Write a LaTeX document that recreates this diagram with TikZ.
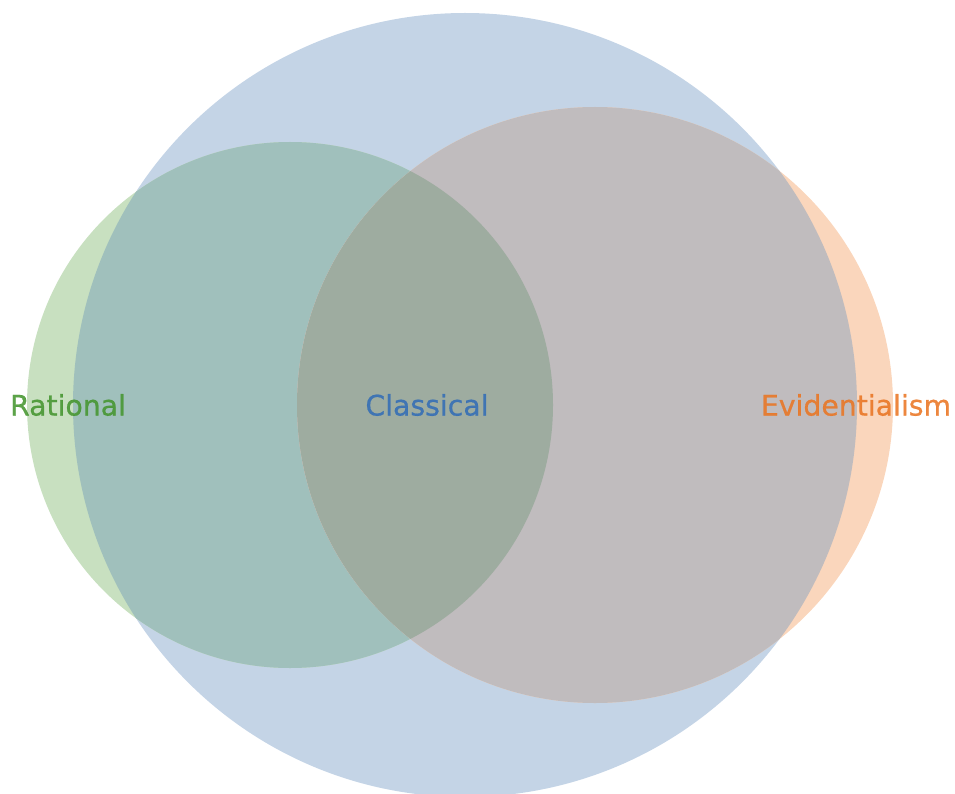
\documentclass[tikz,border=0pt]{standalone}
\usepackage{fontspec}
\setmainfont{DejaVu Sans}
\newfontfamily\setfont[FakeBold=0.7]{DejaVu Sans}
\begin{document}
\begin{tikzpicture}[x=1pt,y=-1pt,
  setlabel/.style={font=\setfont\fontsize{28.3}{34}\selectfont, inner sep=0pt, text opacity=0.88}]
\definecolor{blueonly}{RGB}{196,212,230}
\definecolor{greenonly}{RGB}{200,224,192}
\definecolor{orangeonly}{RGB}{250,214,188}
\definecolor{bluegreen}{RGB}{160,192,188}
\definecolor{blueorange}{RGB}{192,188,190}
\definecolor{allthree}{RGB}{158,172,160}
\definecolor{labgreen}{RGB}{70,150,48}
\definecolor{labblue}{RGB}{52,110,182}
\definecolor{laborange}{RGB}{234,118,36}

\useasboundingbox (0,0) rectangle (955,794);
\clip (0,0) rectangle (955,794);

% circle centres and radii
\coordinate (cc) at (465,405);
\coordinate (rc) at (290,405);
\coordinate (ec) at (595,405);

% Classical set
\fill[blueonly] (cc) circle[radius=392];
% Rational set
\fill[greenonly] (rc) circle[radius=263];
\begin{scope}
  \clip (cc) circle[radius=392];
  \fill[bluegreen] (rc) circle[radius=263];
\end{scope}
% Evidentialism set
\fill[orangeonly] (ec) circle[radius=298];
\begin{scope}
  \clip (cc) circle[radius=392];
  \fill[blueorange] (ec) circle[radius=298];
\end{scope}
\begin{scope}
  \clip (rc) circle[radius=263];
  \fill[allthree] (ec) circle[radius=298];
\end{scope}

% labels
\node[setlabel, text=labgreen] (rational) at (68,405) {Rational};
\node[setlabel, text=labblue] (classical) at (427,405) {Classical};
\node[setlabel, text=laborange] (evid) at (856,405) {Evidentialism};
\end{tikzpicture}
\end{document}
